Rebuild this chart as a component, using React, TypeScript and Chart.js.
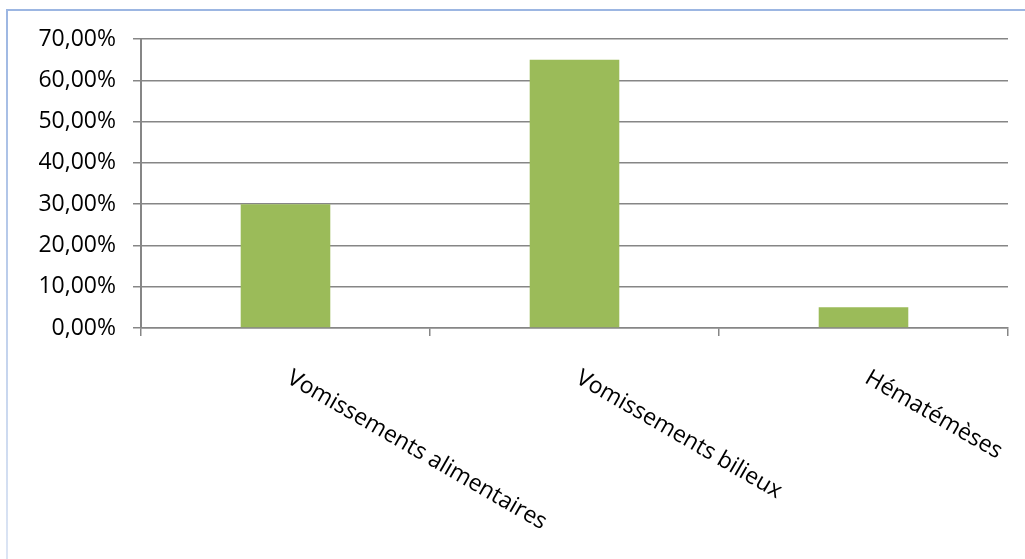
import { useEffect, useRef } from "react";
import { Chart, registerables } from "chart.js";

Chart.register(...registerables);

// Type de vomissements et part des patients concernés
const categories = ["Vomissements alimentaires", "Vomissements bilieux", "Hématémèses"];
const shares = [0.3, 0.65, 0.05];
const yMin = 0;
const yMax = 0.7;
const yStep = 0.1;

const FONT = '"Open Sans", "Noto Sans", sans-serif';
const GRID = "#868686";
const BAR = "#9bbb59";

const formatPercent = (v: number) => (v * 100).toFixed(2).replace(".", ",") + "%";

// Frame around the chart: top and left edges, left edge fading downward
const framePlugin = {
  id: "frame",
  beforeDraw(chart: Chart) {
    const { ctx, width, height } = chart;
    ctx.save();
    ctx.fillStyle = "#ffffff";
    ctx.fillRect(0, 0, width, height);
    ctx.fillStyle = "#9cb6e2";
    ctx.fillRect(7, 9, width - 7, 2);
    const g = ctx.createLinearGradient(0, 9, 0, height);
    g.addColorStop(0, "#9cb6e2");
    g.addColorStop(1, "#dce5f4");
    ctx.fillStyle = g;
    ctx.fillRect(6, 9, 2, height - 9);
    ctx.restore();
  },
};

// Category names, slanted downward from each category centre
const categoryLabelsPlugin = {
  id: "categoryLabels",
  afterDraw(chart: Chart) {
    const { ctx } = chart;
    const x = chart.scales.x;
    ctx.save();
    ctx.font = `23px ${FONT}`;
    ctx.fillStyle = "#000000";
    ctx.textAlign = "left";
    ctx.textBaseline = "alphabetic";
    categories.forEach((label, i) => {
      const px = x.getPixelForTick(i);
      ctx.save();
      ctx.translate(px, x.bottom + 46);
      ctx.rotate(Math.PI / 6);
      ctx.fillText(label, 0, 0);
      ctx.restore();
    });
    ctx.restore();
  },
};

export default function App() {
  const canvasRef = useRef<HTMLCanvasElement | null>(null);

  useEffect(() => {
    if (!canvasRef.current) return;
    const chart = new Chart(canvasRef.current, {
      type: "bar",
      data: {
        labels: categories,
        datasets: [
          {
            data: shares,
            backgroundColor: BAR,
            borderWidth: 0,
            categoryPercentage: 1,
            barPercentage: 0.31,
          },
        ],
      },
      options: {
        animation: false,
        responsive: false,
        maintainAspectRatio: false,
        layout: { padding: { top: 39, right: 17, bottom: 223, left: 0 } },
        plugins: {
          legend: { display: false },
          tooltip: { enabled: false },
        },
        scales: {
          x: {
            offset: true,
            grid: {
              offset: true,
              drawOnChartArea: false,
              drawTicks: true,
              tickLength: 8,
              color: GRID,
              lineWidth: 1.5,
            },
            border: { color: GRID, width: 1.5 },
            ticks: { display: false },
            afterFit: (scale: any) => {
              scale.height = 8;
            },
          },
          y: {
            min: yMin,
            max: yMax,
            grid: {
              color: GRID,
              lineWidth: 1.5,
              tickLength: 8,
              drawTicks: true,
            },
            border: { color: GRID, width: 2 },
            ticks: {
              stepSize: yStep,
              padding: 17,
              color: "#000000",
              font: { family: FONT, size: 23 },
              callback: (v: any) => formatPercent(Number(v)),
            },
            afterFit: (scale: any) => {
              scale.width = 141;
            },
          },
        },
      },
      plugins: [framePlugin, categoryLabelsPlugin],
    });
    return () => chart.destroy();
  }, []);

  return (
    <div style={{ position: "absolute", left: 0, top: 0, width: 1025, height: 559 }}>
      <canvas ref={canvasRef} width={1025} height={559} style={{ display: "block" }} />
    </div>
  );
}
